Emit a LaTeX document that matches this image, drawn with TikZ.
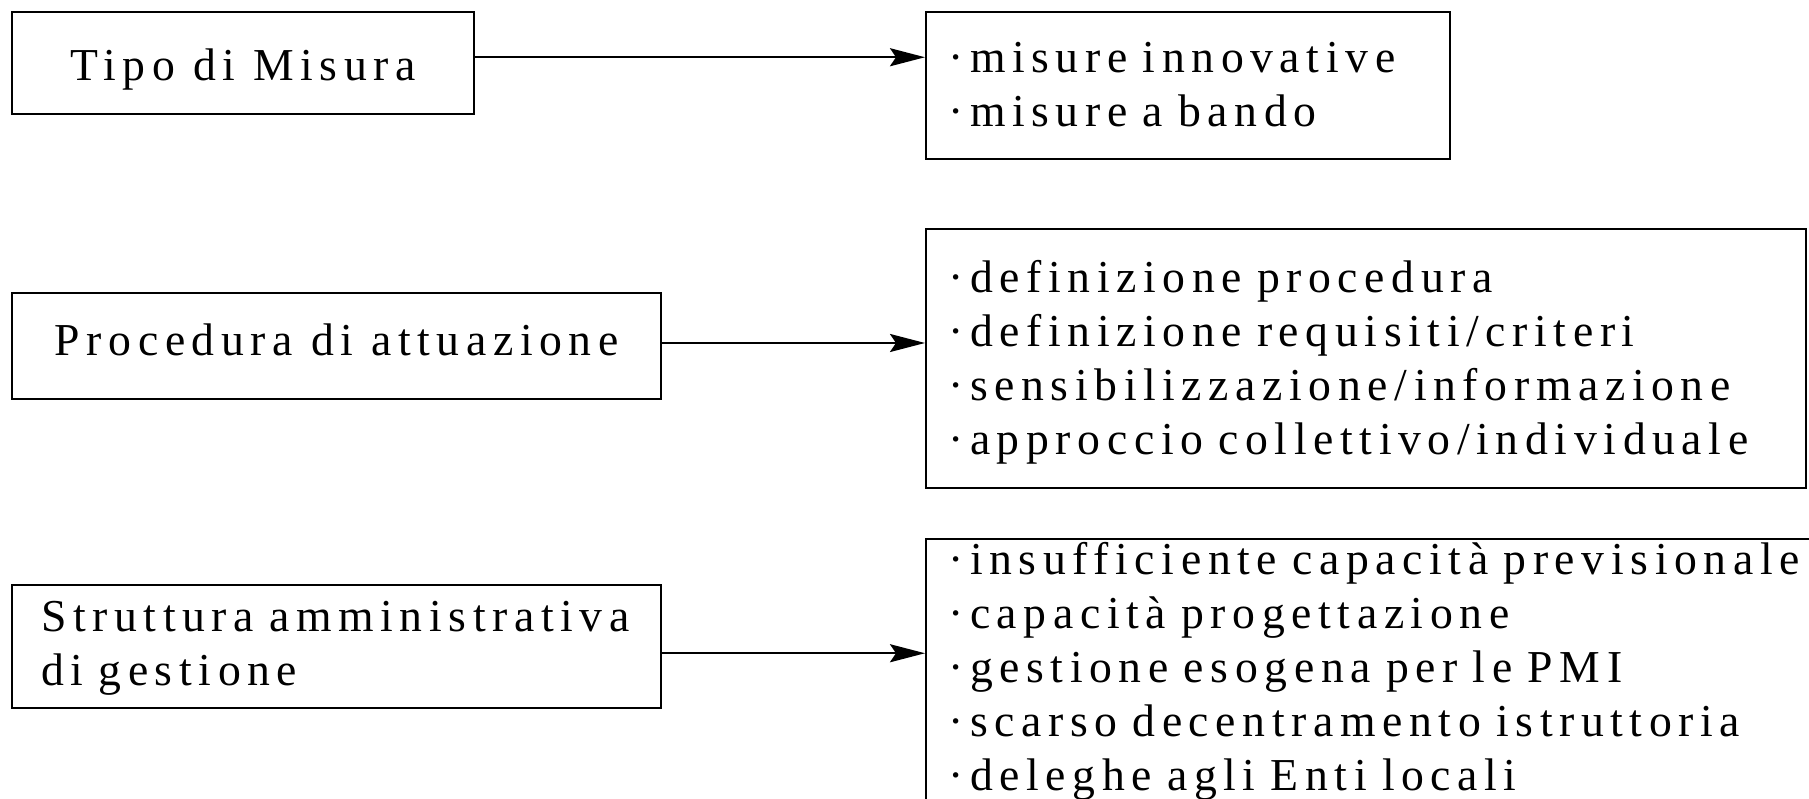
\documentclass[tikz,border=0pt]{standalone}
\usepackage{fontspec}
\setmainfont{Liberation Serif}[LetterSpace=14.5]
\usetikzlibrary{arrows.meta}

\begin{document}
\begin{tikzpicture}[x=0.1mm, y=-0.1mm]
    \tikzstyle{box_style}=[rectangle, draw, line width=0.7pt, anchor=north west, inner sep=0pt, font=\fontsize{13}{15.4}\selectfont]
    \tikzstyle{list_style}=[box_style, align=left, inner xsep=2.2mm]
    \tikzstyle{arrow_style}=[-{Stealth[length=3.5mm, width=1.8mm, inset=0.6mm]}, line width=0.7pt]

    \clip (0,0) rectangle (1809,798);

    % left boxes
    \draw node at (11, 11) [box_style, minimum width=46.2mm, text height=6.8mm, text depth=3.4mm] (tipo) {Tipo di Misura};
    \draw node at (11, 291.7) [box_style, minimum width=64.9mm, text height=6.23mm, text depth=4.4mm] (procedura) {Procedura di attuazione};
    \draw node at (11, 584) [box_style, text width=59.1mm, inner xsep=2.9mm, text height=4.6mm, text depth=7.7mm, align=left] (struttura) {Struttura amministrativa\\di gestione};

    % right boxes
    \draw node at (925, 11) [list_style, text width=48.0mm, text height=6.0mm, text depth=8.7mm] (misure_list) {·misure innovative\\·misure a bando};
    \draw node at (925, 228) [list_style, text width=83.6mm, text height=6.3mm, text depth=19.6mm] (procedura_list) {
      ·definizione procedura\\
      ·definizione requisiti/criteri\\
      ·sensibilizzazione/informazione\\
      ·approccio collettivo/individuale
    };
    \draw node at (925, 538) [list_style, text width=100mm, text height=3.5mm, text depth=30mm] (struttura_list) {
      ·insufficiente capacità previsionale\\
      ·capacità progettazione\\
      ·gestione esogena per le PMI\\
      ·scarso decentramento istruttoria\\
      ·deleghe agli Enti locali
    };

    % connect: box -> list
    \path (tipo.east) ++(0,-6) coordinate (tipo_out);
    \draw[arrow_style] (tipo_out) -- (tipo_out -| misure_list.west);
    \path (procedura.east) ++(0,-3.1) coordinate (procedura_out);
    \draw[arrow_style] (procedura_out) -- (procedura_out -| procedura_list.west);
    \path (struttura.east) ++(0,6.5) coordinate (struttura_out);
    \draw[arrow_style] (struttura_out) -- (struttura_out -| struttura_list.west);
\end{tikzpicture}
\end{document}
